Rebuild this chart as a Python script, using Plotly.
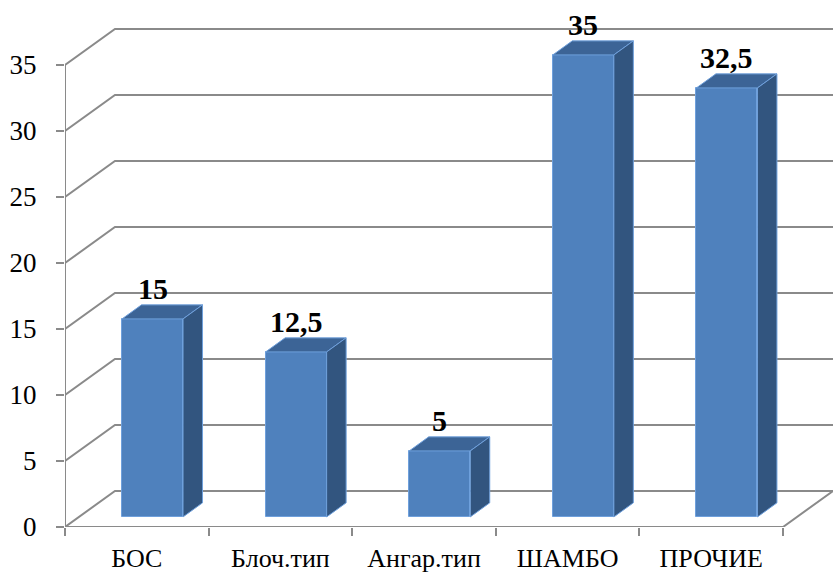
import plotly.graph_objects as go

# Data
categories = ["БОС", "Блоч.тип", "Ангар.тип", "ШАМБО", "ПРОЧИЕ"]
values = [15, 12.5, 5, 35, 32.5]
y_ticks = [0, 5, 10, 15, 20, 25, 30, 35]

# 3D frame geometry (data units: x = category index, y = value)
DEPTH_X, DEPTH_Y = 0.348, 2.73     # full depth of the floor / walls
BAR_FRONT, BAR_BACK = 0.28, 0.67   # bar front/back planes as depth fractions
BAR_HALF = 0.2125
N = len(categories)
X_LEFT, X_RIGHT = -0.5, N - 0.5 + DEPTH_X

GRID = "#8a8a8a"
FRONT = "#4f81bd"
TOP = "#3c6496"
SIDE = "#32557f"
EDGE = "#6fa0dc"
SERIF = "Liberation Serif"

fig = go.Figure()
shapes = []


def polyline(xs, ys):
    path = "M " + " L ".join(f"{x},{y}" for x, y in zip(xs, ys))
    return dict(type="path", path=path, xref="x", yref="y", layer="below",
                line=dict(color=GRID, width=2))


# back-wall gridlines bent along the left wall
for v in y_ticks:
    shapes.append(polyline([X_LEFT, X_LEFT + DEPTH_X, X_RIGHT],
                           [v, v + DEPTH_Y, v + DEPTH_Y]))
# floor front edge and right-side slope
shapes.append(polyline([X_LEFT, N - 0.5, N - 0.5 + DEPTH_X], [0, 0, DEPTH_Y]))
# vertical value axis
shapes.append(polyline([X_LEFT, X_LEFT], [0, max(y_ticks)]))

fx, fy = BAR_FRONT * DEPTH_X + 0.012, BAR_FRONT * DEPTH_Y
bdx = (BAR_BACK - BAR_FRONT) * DEPTH_X
bdy = (BAR_BACK - BAR_FRONT) * DEPTH_Y
centers = [i + fx for i in range(N)]

# front faces
fig.add_trace(go.Bar(
    x=centers, y=values, base=[fy] * len(values), width=2 * BAR_HALF,
    marker=dict(color=FRONT, line=dict(color=EDGE, width=1)),
    hoverinfo="skip", showlegend=False))

# top and side faces, value labels
for c, v in zip(centers, values):
    l, r = c - BAR_HALF, c + BAR_HALF
    b, t = fy, fy + v
    fig.add_trace(go.Scatter(
        x=[l, r, r + bdx, l + bdx, l], y=[t, t, t + bdy, t + bdy, t],
        mode="lines", fill="toself", fillcolor=TOP,
        line=dict(color=EDGE, width=1), hoverinfo="skip", showlegend=False))
    fig.add_trace(go.Scatter(
        x=[r, r + bdx, r + bdx, r, r], y=[b, b + bdy, t + bdy, t, b],
        mode="lines", fill="toself", fillcolor=SIDE,
        line=dict(color=EDGE, width=1), hoverinfo="skip", showlegend=False))
    fig.add_annotation(
        x=c, y=t + bdy, text=f"<b>{v:g}</b>".replace(".", ","),
        showarrow=False, yanchor="bottom", yshift=-2,
        font=dict(family=SERIF, size=30, color="#000000"))

# dummy trace so the boundary-tick axis is rendered
fig.add_trace(go.Scatter(x=[X_LEFT], y=[0], xaxis="x2", mode="markers",
                         marker=dict(opacity=0), hoverinfo="skip",
                         showlegend=False))

fig.update_layout(
    width=833, height=574,
    margin=dict(l=65, r=0, t=0, b=47, autoexpand=False),
    paper_bgcolor="white", plot_bgcolor="white",
    font=dict(family=SERIF, color="#000000"),
    bargap=0,
    shapes=shapes,
    xaxis=dict(
        range=[X_LEFT, X_RIGHT], tickvals=list(range(N)),
        ticktext=categories, ticks="", showgrid=False, zeroline=False,
        showline=False, ticklabelstandoff=13, automargin=False,
        tickfont=dict(family=SERIF, size=26, color="#000000")),
    xaxis2=dict(
        range=[X_LEFT, X_RIGHT], overlaying="x", anchor="y", side="bottom",
        tickvals=[i - 0.5 for i in range(N + 1)], automargin=False,
        ticks="outside", ticklen=8, tickwidth=2, tickcolor=GRID,
        showticklabels=False, showgrid=False, zeroline=False, showline=False),
    yaxis=dict(
        range=[0, 527 / 13.2], tickvals=y_ticks, ticks="outside",
        ticklen=8, tickwidth=2, tickcolor=GRID, showgrid=False,
        zeroline=False, showline=False, ticklabelstandoff=14,
        automargin=False,
        tickfont=dict(family=SERIF, size=27, color="#000000")),
)

fig.write_html("out.html")
